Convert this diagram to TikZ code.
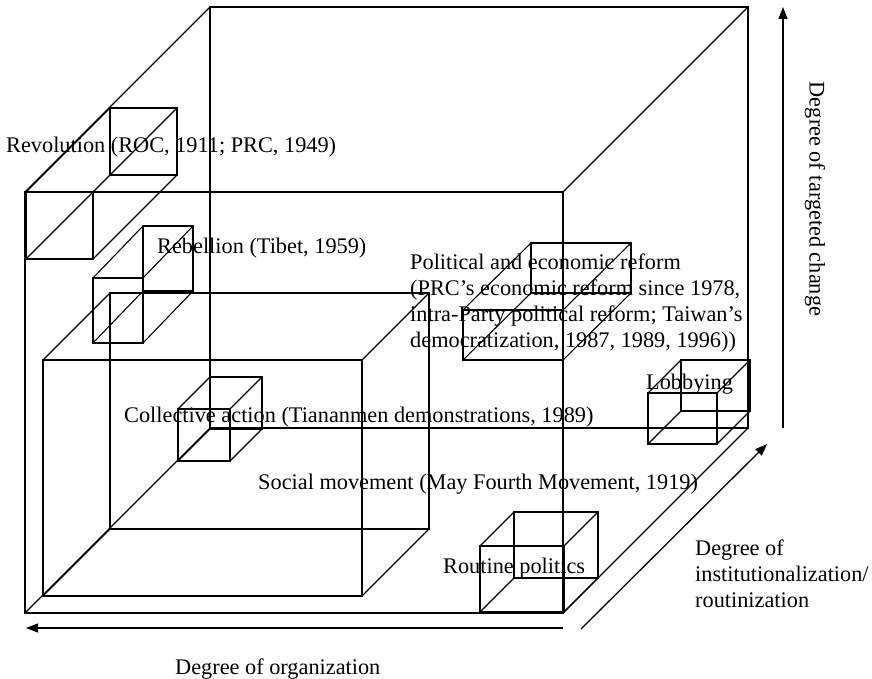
\documentclass[tikz,border=0pt]{standalone}
\usepackage{fontspec}
\setmainfont{Liberation Serif}
\usetikzlibrary{arrows.meta}
\newcommand\drawbox[6]{% front top-left x, y, width, height, depth dx, depth dy
  \draw[boxline] (#1,#2) rectangle ++(#3,#4);
  \draw[boxline] (#1+#5,#2-#6) rectangle ++(#3,#4);
  \draw[boxline] (#1,#2) -- ++(#5,-#6)
                 (#1+#3,#2) -- ++(#5,-#6)
                 (#1,#2+#4) -- ++(#5,-#6)
                 (#1+#3,#2+#4) -- ++(#5,-#6);
}
\begin{document}
\begin{tikzpicture}[x=1pt,y=-1pt,
  boxline/.style={line width=1.1pt, black},
  axis/.style={line width=1.3pt, black, -{Triangle[length=12pt,width=9pt]}},
  lbl/.style={font=\fontsize{22.3}{26}\selectfont, inner sep=0pt, anchor=base west},
  lblml/.style={lbl, align=left}]
\useasboundingbox (0,0) rectangle (872,679);

% big cube
\drawbox{25}{192}{538}{421}{185}{185}
% revolution
\drawbox{26}{192}{67}{67}{84}{84}
% rebellion
\drawbox{93}{278}{50}{65}{50}{52}
% social movement
\drawbox{43}{360}{319}{236}{67}{67}
% collective action
\drawbox{178}{409}{52}{52}{32}{32}
% political and economic reform
\drawbox{463}{310}{100}{50}{68}{67}
% lobbying
\drawbox{648}{393}{69}{51}{33}{33}
% routine politics
\drawbox{480}{546}{84}{66}{34}{34}

% axes
\coordinate (orgA) at (563,628);
\coordinate (orgB) at (26,628);
\coordinate (instA) at (581,629);
\coordinate (instB) at (767,444);
\coordinate (tarA) at (783,428);
\coordinate (tarB) at (783,7);
\draw[axis] (orgA) -- (orgB);
\draw[axis] (instA) -- (instB);
\draw[axis] (tarA) -- (tarB);

% labels
\node[lbl] (rev) at (6,153) {Revolution (ROC, 1911; PRC, 1949)};
\node[lbl] (reb) at (157,253) {Rebellion (Tibet, 1959)};
\node[lblml] (pol) at (410,347) {Political and economic reform\\(PRC’s economic reform since 1978,\\intra-Party political reform; Taiwan’s\\democratization, 1987, 1989, 1996))};
\node[lbl] (lob) at (646,389) {Lobbying};
\node[lbl] (col) at (124,422) {Collective action (Tiananmen demonstrations, 1989)};
\node[lbl] (soc) at (258,489) {Social movement (May Fourth Movement, 1919)};
\node[lbl] (rou) at (443,573) {Routine politics};
\node[lblml] (inst) at (695,607) {Degree of\\institutionalization/\\routinization};
\node[lbl] (org) at (175,674) {Degree of organization};
\node[font=\fontsize{22.3}{26}\selectfont, inner sep=0pt, rotate=-90] (tar) at (815,199) {Degree of targeted change};
\end{tikzpicture}
\end{document}
